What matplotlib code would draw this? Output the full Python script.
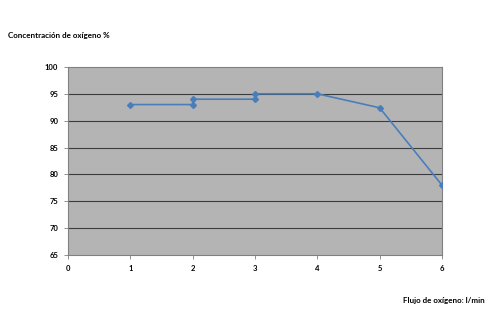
import matplotlib
matplotlib.use('Agg')
import matplotlib.pyplot as plt

flujo = [1, 2, 2, 3, 3, 4, 5, 6]
concentracion = [93, 93, 94, 94, 95, 95, 92.4, 78]
x_ticks = [0, 1, 2, 3, 4, 5, 6]
y_ticks = [65, 70, 75, 80, 85, 90, 95, 100]

plt.rcParams['font.family'] = ['Lato', 'DejaVu Sans']

fig = plt.figure(figsize=(5, 3.33), dpi=100)
ax = fig.add_axes([0.136, 0.234, 0.748, 0.565])
ax.set_facecolor('#b4b4b4')

for y in y_ticks[1:-1]:
    ax.axhline(y, color='#3c3c3c', lw=0.8, zorder=1)

ax.plot(flujo, concentracion, color='#4a7ebb', lw=1.2, marker='D', markersize=3,
        markerfacecolor='#4a7ebb', markeredgecolor='#4a7ebb', zorder=3)

ax.set_xlim(0, 6)
ax.set_ylim(65, 100)
ax.set_xticks(x_ticks)
ax.set_yticks(y_ticks)
ax.tick_params(labelsize=5.5, length=3, width=0.6, color='#808080', pad=4)
for lab in ax.get_xticklabels() + ax.get_yticklabels():
    lab.set_fontweight('bold')
for s in ax.spines.values():
    s.set_color('#808080')
    s.set_linewidth(0.8)

fig.text(0.016, 0.885, 'Concentración de oxígeno %', fontsize=5.8, fontweight='bold')
fig.text(0.97, 0.09, 'Flujo de oxígeno: l/min', fontsize=5.8, fontweight='bold', ha='right')

fig.savefig('out.png', dpi=100)
